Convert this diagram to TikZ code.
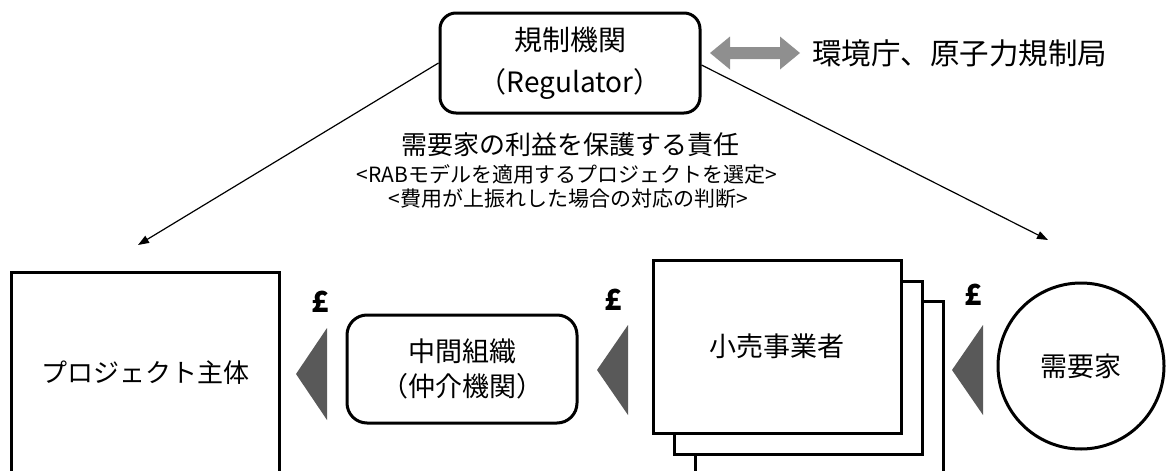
\documentclass[tikz,border=0pt]{standalone}
\usepackage{fontspec}
\setmainfont{Noto Sans CJK JP}
\usetikzlibrary{arrows.meta}
\definecolor{tri}{HTML}{595959}
\definecolor{dbl}{HTML}{8F8F8F}
\begin{document}
\begin{tikzpicture}[x=1pt,y=-1pt,
  thickbox/.style={draw,line width=3pt,inner sep=0pt,fill=white},
  conn/.style={line width=1.2pt,-{Triangle[length=11pt,width=8pt]}},
  pound/.style={inner sep=0pt,font=\fontsize{29}{30}\selectfont\bfseries},
  moneytri/.style={fill=tri,draw=none}]
\useasboundingbox (0,0) rectangle (1167,471);
\clip (0,0) rectangle (1167,471);

% regulator
\node[thickbox,rounded corners=16pt,minimum width=260pt,minimum height=100pt,
  align=center,font=\fontsize{28}{42}\selectfont] (reg) at (570,63)
  {規制機関\\（Regulator）};

% double arrow
\fill[dbl] (710,53) -- (730,36.5) -- (730,47) -- (780,47) -- (780,36.5) -- (800,53)
  -- (780,69.5) -- (780,59) -- (730,59) -- (730,69.5) -- cycle;
\node[anchor=west,inner sep=0pt,font=\fontsize{29.5}{32}\selectfont] (env) at (812,53)
  {環境庁、原子力規制局};

% responsibility text
\node[inner sep=0pt,font=\fontsize{26}{30}\selectfont] (resp1) at (570,145)
  {需要家の利益を保護する責任};
\node[inner sep=0pt,font=\fontsize{21}{24}\selectfont] (resp2) at (567,174)
  {<RABモデルを適用するプロジェクトを選定>};
\node[inner sep=0pt,font=\fontsize{21}{24}\selectfont] (resp3) at (568,199)
  {<費用が上振れした場合の対応の判断>};

% connectors from regulator
\coordinate (pl) at (138,245);
\coordinate (pr) at (1048,240);
\draw[conn] (reg.west) -- (pl);
\draw[conn] ([yshift=-2pt]reg.east) -- (pr);

% project entity
\node[thickbox,minimum width=268pt,minimum height=202pt,
  font=\fontsize{26}{30}\selectfont] (proj) at (145,373) {プロジェクト主体};

% intermediary
\node[thickbox,rounded corners=20pt,minimum width=230pt,minimum height=108pt,
  align=center,font=\fontsize{27}{35}\selectfont] (mid) at (462,369)
  {中間組織\\（仲介機関）};

% retailers (stack)
\node[thickbox,minimum width=248pt,minimum height=173pt] (ret3) at (819,387.5) {};
\node[thickbox,minimum width=248pt,minimum height=173pt] (ret2) at (798,367.5) {};
\node[thickbox,minimum width=248pt,minimum height=173pt,
  font=\fontsize{27}{30}\selectfont] (ret) at (777,346.5) {小売事業者};

% consumers
\node[draw,line width=3pt,circle,minimum size=166pt,inner sep=0pt,
  font=\fontsize{27}{30}\selectfont] (cons) at (1081,366) {需要家};

% money flow triangles
\fill[moneytri] (327,328) -- (296,374) -- (327,420) -- cycle;
\fill[moneytri] (628,325) -- (597,370) -- (628,415) -- cycle;
\fill[moneytri] (983,325) -- (952,370) -- (983,415) -- cycle;

\node[pound] (p1) at (320,302) {£};
\node[pound] (p2) at (613,300) {£};
\node[pound] (p3) at (973,295) {£};
\end{tikzpicture}
\end{document}
